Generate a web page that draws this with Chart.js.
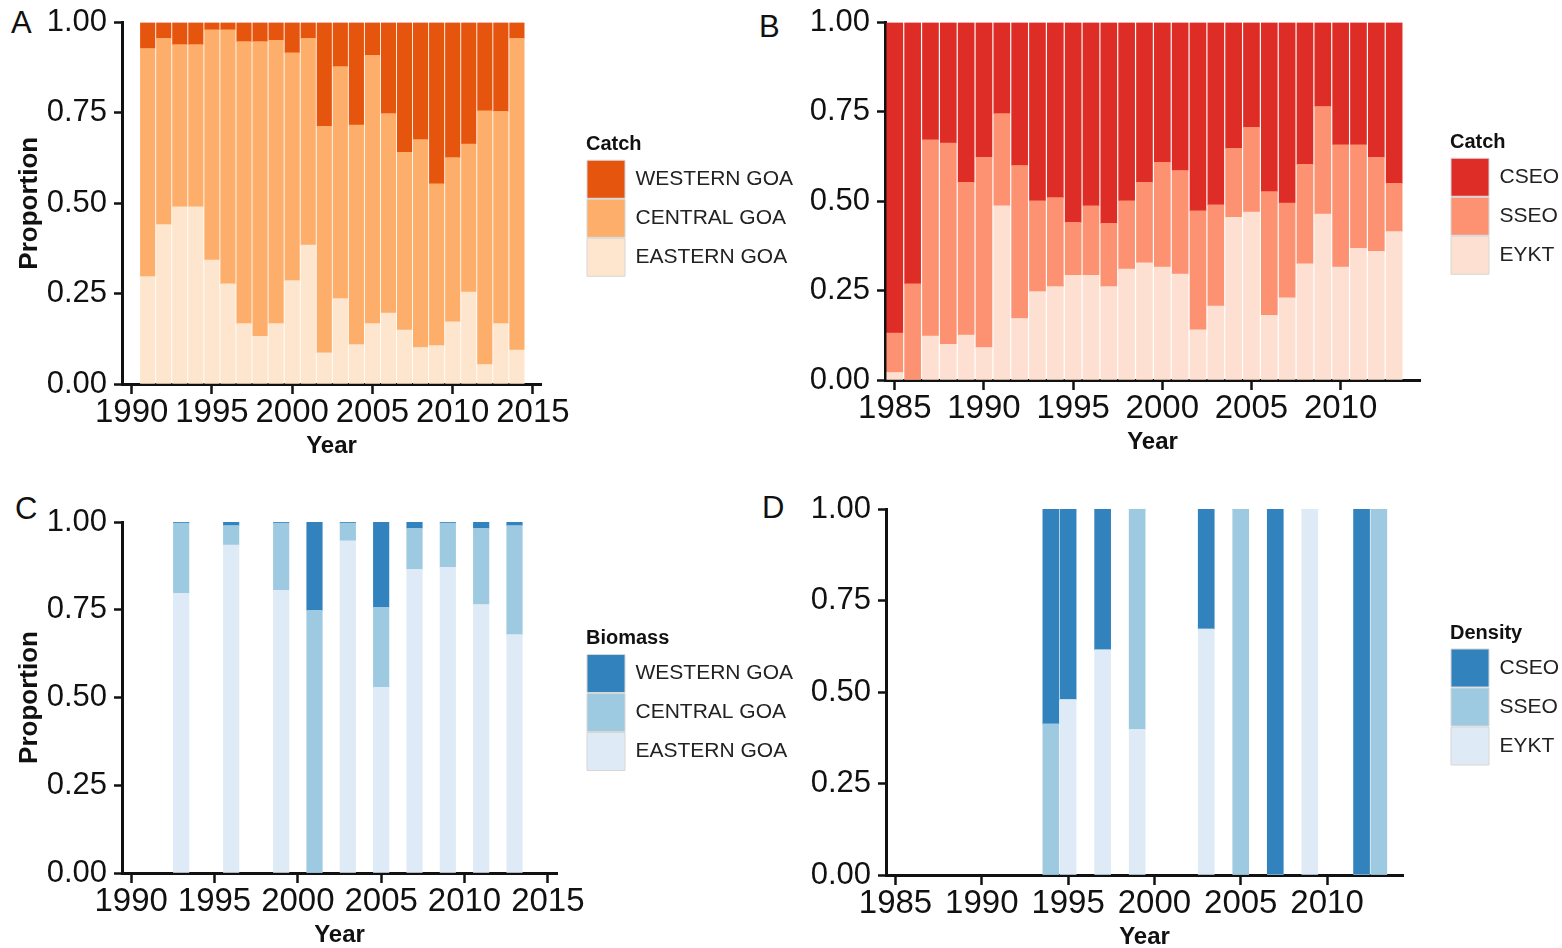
<!DOCTYPE html>
<html lang="en">
<head>
<meta charset="UTF-8">
<title>Catch, biomass and density proportions by area</title>
<script src="https://cdn.jsdelivr.net/npm/chart.js"></script>
<style>
  html, body { margin: 0; padding: 0; background: #fff; overflow: hidden; }
  body { width: 1562px; height: 948px; position: relative; font-family: "Liberation Sans", Arial, sans-serif; }
  canvas { position: absolute; }
  .tag { position: absolute; font-size: 31px; line-height: 1; color: #111; }
</style>
</head>
<body>
<div class="tag" style="left:11px; top:7px">A</div>
<div class="tag" style="left:759px; top:11px">B</div>
<div class="tag" style="left:15px; top:493px">C</div>
<div class="tag" style="left:762px; top:492px">D</div>

<canvas id="chartA" width="810" height="465" style="left:0; top:0"></canvas>
<canvas id="chartB" width="782" height="465" style="left:780px; top:0"></canvas>
<canvas id="chartC" width="810" height="480" style="left:0; top:470px"></canvas>
<canvas id="chartD" width="782" height="482" style="left:780px; top:470px"></canvas>

<script>
// ---- data (proportions) ----
// A: catch by GOA region
const yearsA = [1991, 1992, 1993, 1994, 1995, 1996, 1997, 1998, 1999, 2000, 2001, 2002,
                2003, 2004, 2005, 2006, 2007, 2008, 2009, 2010, 2011, 2012, 2013, 2014];
const westernA = [0.072, 0.044, 0.061, 0.061, 0.020, 0.020, 0.053, 0.053, 0.049, 0.084, 0.044, 0.287,
                  0.122, 0.284, 0.091, 0.252, 0.359, 0.324, 0.446, 0.374, 0.336, 0.244, 0.246, 0.044];
const centralA = [0.631, 0.515, 0.449, 0.449, 0.637, 0.703, 0.780, 0.815, 0.784, 0.630, 0.572, 0.627,
                  0.642, 0.607, 0.742, 0.552, 0.492, 0.575, 0.448, 0.454, 0.410, 0.702, 0.587, 0.862];
const easternA = [0.297, 0.441, 0.490, 0.490, 0.343, 0.277, 0.167, 0.132, 0.167, 0.286, 0.384, 0.086,
                  0.236, 0.109, 0.167, 0.196, 0.149, 0.101, 0.106, 0.172, 0.254, 0.054, 0.167, 0.094];

// B: catch by SEO area
const yearsB = [1985, 1986, 1987, 1988, 1989, 1990, 1991, 1992, 1993, 1994, 1995, 1996, 1997, 1998, 1999,
                2000, 2001, 2002, 2003, 2004, 2005, 2006, 2007, 2008, 2009, 2010, 2011, 2012, 2013];
const cseoB = [0.869, 0.731, 0.328, 0.337, 0.447, 0.377, 0.255, 0.400, 0.499, 0.490, 0.559, 0.513, 0.562, 0.499, 0.447,
               0.391, 0.414, 0.527, 0.510, 0.352, 0.293, 0.473, 0.505, 0.397, 0.235, 0.342, 0.342, 0.377, 0.450];
const sseoB = [0.110, 0.269, 0.549, 0.563, 0.427, 0.532, 0.258, 0.428, 0.254, 0.249, 0.148, 0.194, 0.177, 0.191, 0.225,
               0.293, 0.290, 0.333, 0.283, 0.193, 0.237, 0.346, 0.265, 0.278, 0.301, 0.342, 0.290, 0.263, 0.135];
const eyktB = [0.021, 0.000, 0.123, 0.100, 0.126, 0.091, 0.487, 0.172, 0.247, 0.261, 0.293, 0.293, 0.261, 0.310, 0.328,
               0.316, 0.296, 0.140, 0.207, 0.455, 0.470, 0.181, 0.230, 0.325, 0.464, 0.316, 0.368, 0.360, 0.415];

// C: survey biomass by GOA region
const yearsC = [1993, 1996, 1999, 2001, 2003, 2005, 2007, 2009, 2011, 2013];
const westernC = [0.003, 0.010, 0.003, 0.252, 0.003, 0.243, 0.018, 0.003, 0.018, 0.010];
const centralC = [0.200, 0.056, 0.192, 0.748, 0.051, 0.228, 0.117, 0.126, 0.217, 0.311];
const easternC = [0.797, 0.934, 0.805, 0.000, 0.946, 0.529, 0.865, 0.871, 0.765, 0.679];

// D: density by SEO area
const yearsD = [1994, 1995, 1997, 1999, 2003, 2005, 2007, 2009, 2012, 2013];
const cseoD = [0.587, 0.521, 0.385, 0.000, 0.328, 0.000, 1.000, 0.000, 1.000, 0.000];
const sseoD = [0.413, 0.000, 0.000, 0.602, 0.000, 1.000, 0.000, 0.000, 0.000, 1.000];
const eyktD = [0.000, 0.479, 0.615, 0.398, 0.672, 0.000, 0.000, 1.000, 0.000, 0.000];

// ticks
const xTicksGoa = [1990, 1995, 2000, 2005, 2010, 2015];
const xTicksSeo = [1985, 1990, 1995, 2000, 2005, 2010];
const yTicks = [0, 0.25, 0.5, 0.75, 1];

// colours: top, middle, bottom
const oranges = ['#E6550D', '#FDAE6B', '#FEE6CE'];
const reds = ['#DE2D26', '#FC9272', '#FEE0D2'];
const blues = ['#3182BD', '#9ECAE1', '#DEEBF7'];

const ink = '#111';
const family = "'Liberation Sans', Arial, sans-serif";
Chart.defaults.font.family = family;

const BOX = 38, LEGEND_FONT = 21;

// width the legend needs (chart.js clips its text to the legend box)
function legendWidth(labels) {
  const ctx = document.createElement('canvas').getContext('2d');
  ctx.font = LEGEND_FONT + 'px ' + family;
  const text = Math.max(...labels.map(t => ctx.measureText(t).width));
  return Math.ceil(1 + BOX + LEGEND_FONT / 2 + text + 3);
}

function stackedChart(id, p) {
  const canvas = document.getElementById(id);
  const lw = legendWidth(p.series.map(s => s.label));
  const padRight = canvas.width - p.plotRight - p.legendGap - lw;

  // bottom series first, so it sits at the base of each stack
  const datasets = p.series.map(s => ({
    label: s.label,
    data: s.values.map((v, i) => ({ x: p.years[i], y: v })),
    backgroundColor: s.color,
    borderWidth: 0,
    barThickness: p.barWidth
  }));

  return new Chart(canvas, {
    type: 'bar',
    data: { datasets: datasets },
    options: {
      responsive: false,
      animation: false,
      layout: { padding: { top: p.plotTop, left: 0, right: padRight, bottom: p.padBottom } },
      plugins: {
        tooltip: { enabled: false },
        legend: {
          position: 'right',
          fullSize: false,
          maxWidth: lw,
          reverse: true,
          title: {
            display: true, text: p.legendTitle, position: 'start', color: ink,
            font: { size: 20, weight: 'bold' }, padding: { top: 5, bottom: 1 }
          },
          labels: {
            boxWidth: BOX, boxHeight: BOX, padding: 1, color: '#222', font: { size: LEGEND_FONT },
            generateLabels: chart => Chart.defaults.plugins.legend.labels.generateLabels(chart)
              .map(l => Object.assign(l, { strokeStyle: '#d6d6d6', lineWidth: 1 }))
          }
        }
      },
      scales: {
        x: {
          type: 'linear', stacked: true, min: p.xMin, max: p.xMax, offset: false,
          afterBuildTicks: s => { s.ticks = p.xTicks.map(v => ({ value: v })); },
          afterFit: s => { s.height = 77; },
          ticks: { callback: v => String(v), color: ink, padding: 2, maxRotation: 0, autoSkip: false,
                   font: { size: 33, lineHeight: 1 } },
          grid: { drawOnChartArea: false, offset: false, tickLength: 10, tickWidth: 2.5, tickColor: ink },
          border: { color: ink, width: 3 },
          title: { display: true, text: 'Year', color: ink, font: { size: 24, weight: 'bold' }, padding: 0 }
        },
        y: {
          stacked: true, min: 0, max: 1,
          afterBuildTicks: s => { s.ticks = yTicks.map(v => ({ value: v })); },
          afterFit: s => { s.width = p.yAxisWidth; },
          ticks: { callback: v => v.toFixed(2), color: ink, padding: 7, font: { size: 31, lineHeight: 1 } },
          grid: { drawOnChartArea: false, tickLength: 8, tickWidth: 2.5, tickColor: ink },
          border: { color: ink, width: 3 },
          title: { display: !!p.yTitle, text: p.yTitle || '', color: ink,
                   font: { size: 26, weight: 'bold' }, padding: { top: 14 } }
        },
        // empty axis that only keeps the gap between the plot and the legend
        gap: {
          type: 'linear', position: 'right', display: true,
          grid: { display: false }, border: { display: false }, ticks: { display: false },
          afterFit: s => { s.width = p.legendGap; }
        }
      }
    }
  });
}

stackedChart('chartA', {
  years: yearsA, xTicks: xTicksGoa, xMin: 1989.4, xMax: 2015.5, barWidth: 14.5,
  plotTop: 19, plotRight: 541, padBottom: 4,
  yAxisWidth: 122, legendGap: 45,
  yTitle: 'Proportion', legendTitle: 'Catch',
  series: [
    { label: 'EASTERN GOA', values: easternA, color: oranges[2] },
    { label: 'CENTRAL GOA', values: centralA, color: oranges[1] },
    { label: 'WESTERN GOA', values: westernA, color: oranges[0] }
  ]
});

stackedChart('chartB', {
  years: yearsB, xTicks: xTicksSeo, xMin: 1984.45, xMax: 2014.45, barWidth: 16,
  plotTop: 16, plotRight: 640, padBottom: 8,
  yAxisWidth: 105, legendGap: 30,
  legendTitle: 'Catch',
  series: [
    { label: 'EYKT', values: eyktB, color: reds[2] },
    { label: 'SSEO', values: sseoB, color: reds[1] },
    { label: 'CSEO', values: cseoB, color: reds[0] }
  ]
});

stackedChart('chartC', {
  years: yearsC, xTicks: xTicksGoa, xMin: 1989.45, xMax: 2015.55, barWidth: 15.5,
  plotTop: 52, plotRight: 557, padBottom: 0,
  yAxisWidth: 122, legendGap: 29,
  yTitle: 'Proportion', legendTitle: 'Biomass',
  series: [
    { label: 'EASTERN GOA', values: easternC, color: blues[2] },
    { label: 'CENTRAL GOA', values: centralC, color: blues[1] },
    { label: 'WESTERN GOA', values: westernC, color: blues[0] }
  ]
});

stackedChart('chartD', {
  years: yearsD, xTicks: xTicksSeo, xMin: 1984.45, xMax: 2014.4, barWidth: 16,
  plotTop: 39, plotRight: 623, padBottom: 0,
  yAxisWidth: 106, legendGap: 47,
  legendTitle: 'Density',
  series: [
    { label: 'EYKT', values: eyktD, color: blues[2] },
    { label: 'SSEO', values: sseoD, color: blues[1] },
    { label: 'CSEO', values: cseoD, color: blues[0] }
  ]
});
</script>
</body>
</html>
